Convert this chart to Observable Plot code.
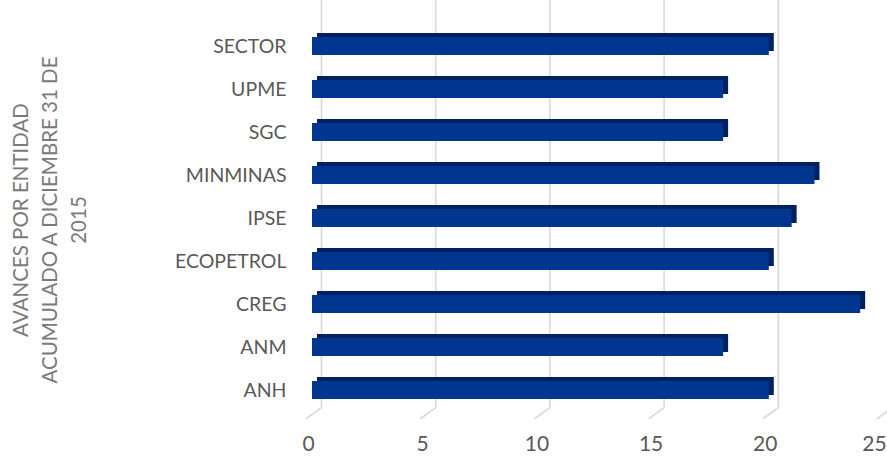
<!DOCTYPE html>
<html>
<head>
<meta charset="utf-8">
<script src="https://cdn.jsdelivr.net/npm/d3@7"></script>
<script src="https://cdn.jsdelivr.net/npm/@observablehq/plot@0.6"></script>
<style>
  html, body { margin: 0; padding: 0; background: #fff; }
</style>
</head>
<body>
<div id="chart"></div>
<script>
const categories = ["SECTOR", "UPME", "SGC", "MINMINAS", "IPSE", "ECOPETROL", "CREG", "ANM", "ANH"];
const values = [20, 18, 18, 22, 21, 20, 24, 18, 20];
const xTicks = [0, 5, 10, 15, 20, 25];
const titleText = "AVANCES POR ENTIDAD\nACUMULADO A DICIEMBRE 31 DE\n2015";

const data = categories.map((c, i) => ({entidad: c, avance: values[i]}));

const lineShape = {
  draw(context, l) {
    context.moveTo(0, 0);
    context.lineTo(0, -l);
  }
};

const chart = Plot.plot({
  width: 887,
  height: 457,
  marginLeft: 312,
  marginRight: 4,
  marginTop: 10,
  marginBottom: 40,
  style: {fontFamily: "Lato, sans-serif", background: "#fff"},
  x: {domain: [0, 25]},
  y: {domain: categories, range: [14, 421], paddingInner: 0.586, paddingOuter: 0.471},
  marks: [
    Plot.ruleX(xTicks, {x: d => d, dx: 9, dy: -10, stroke: "#d9d9d9", strokeWidth: 1.6}),
    Plot.vector(xTicks, {x: d => d, frameAnchor: "bottom", dx: -6, dy: 1, length: 18.6, rotate: 54, anchor: "start", shape: lineShape, stroke: "#d9d9d9", strokeWidth: 1.6}),
    Plot.barX(data, {x: "avance", y: "entidad", dx: 5, dy: -4, fill: "#00215f"}),
    Plot.barX(data, {x: "avance", y: "entidad", fill: "#003590"}),
    Plot.axisY({tickSize: 0, tickPadding: 26, fontSize: 19.5, color: "#595959", label: null}),
    Plot.axisX({ticks: xTicks.slice(0, -1), tickSize: 0, tickPadding: 19, dx: -4, fontSize: 21, color: "#595959", label: null}),
    Plot.axisX({ticks: xTicks.slice(-1), tickSize: 0, tickPadding: 19, dx: -9, fontSize: 21, color: "#595959", label: null}),
    Plot.text([titleText], {text: d => d, frameAnchor: "left", textAnchor: "middle", dx: -265, dy: 6, rotate: -90, fontSize: 20.5, lineHeight: 1.42, fill: "#7a7a7a"})
  ]
});

document.getElementById("chart").appendChild(chart);
</script>
</body>
</html>
